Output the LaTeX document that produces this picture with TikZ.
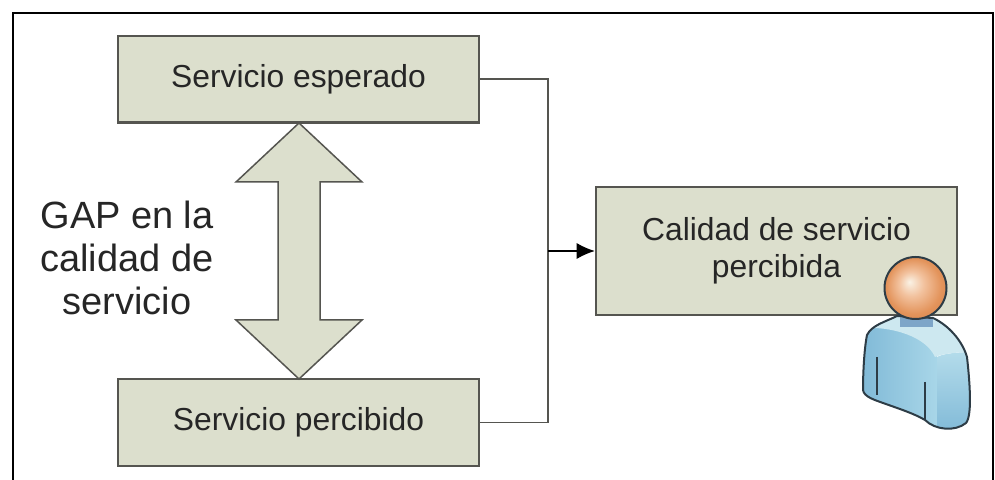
\documentclass[tikz,border=0pt]{standalone}
\usepackage{fontspec}
\setmainfont{Liberation Sans}
\usetikzlibrary{arrows.meta,positioning}
\definecolor{boxfill}{RGB}{220,223,205}
\definecolor{boxline}{RGB}{85,85,80}
\definecolor{shirtdark}{RGB}{128,185,215}
\definecolor{shirt}{RGB}{168,214,232}
\definecolor{shirtlight}{RGB}{205,232,240}
\definecolor{neckblue}{RGB}{125,165,200}
\definecolor{inkline}{RGB}{45,60,70}
\pgfdeclareradialshading{headball}{\pgfpoint{-5bp}{5bp}}{%
  rgb(0bp)=(.98,.95,.90);rgb(10bp)=(.95,.76,.62);rgb(22bp)=(.89,.58,.36);rgb(30bp)=(.84,.52,.30)}
\begin{document}
\begin{tikzpicture}[
  x=.2mm,y=-.2mm,
  every node/.style={font=\fontsize{18.1}{20.8}\selectfont,text=black!85},
  gapbox/.style={draw=boxline,line width=.5mm,fill=boxfill,inner sep=0pt,align=center},
  link/.style={draw=boxline,line width=.35mm}
]
\useasboundingbox (0,0) rectangle (995,480);
\def\personpath{(897,316) .. controls (885,322) and (872,325) .. (867,335)
  .. controls (864,350) and (863,375) .. (863,390)
  .. controls (864,397) and (875,400) .. (883,403)
  .. controls (900,409) and (915,414) .. (925,420)
  .. controls (935,430) and (955,432) .. (966,423)
  .. controls (973,415) and (969,375) .. (967,357)
  .. controls (962,340) and (948,325) .. (933,318) -- cycle}
\draw[line width=.4mm] (12.7,480) -- (12.7,13) -- (993,13) -- (993,480);
% boxes
\node[gapbox,minimum width=72.2mm,minimum height=17.3mm] (esperado) at (298.5,79.3) {Servicio esperado};
\node[gapbox,minimum width=72.2mm,minimum height=17.4mm] (percibido) at (298.5,422.5) {Servicio percibido};
\node[gapbox,minimum width=72.2mm,minimum height=25.6mm] (calidad) at (776.5,251) {Calidad de servicio\\percibida};
% double arrow
\draw[draw=boxline,line width=.3mm,fill=boxfill] (299,123) -- (362,182) -- (320,182) -- (320,320)
  -- (362,320) -- (299,379) -- (236,320) -- (278,320) -- (278,182) -- (236,182) -- cycle;
\node[font=\fontsize{21.6}{24.7}\selectfont,align=center] (gap) at (127,258) {GAP en la\\calidad de\\servicio};
% connectors
\coordinate[right=13.6mm of esperado.east] (top);
\coordinate (mid) at (top |- calidad.west);
\draw[link] (esperado.east) -- (top) -- (top |- percibido.east) -- (percibido.east);
\draw[line width=.25mm,-{Latex[length=3.6mm,width=3.2mm]}] (mid) -- (calidad.west);
% person
\begin{scope}
  \clip \personpath;
  \shade[left color=shirtdark,right color=shirt] (860,300) rectangle (937,435);
  \shade[top color=shirt!70!shirtlight,bottom color=shirtdark] (937,357) .. controls (942,354) and (955,352) .. (975,352) -- (975,435) -- (937,435) -- cycle;
  \fill[shirtlight] (873,328) .. controls (890,328) and (925,335) .. (935,357)
    .. controls (942,354) and (955,352) .. (975,352) -- (975,300) -- (873,300) -- cycle;
  \fill[neckblue] (900,310) rectangle (933,327);
\end{scope}
\draw[inkline,line width=.4mm] \personpath;
\draw[inkline,line width=.3mm] (877,357) -- (877,395);
\draw[inkline,line width=.3mm] (925,382) -- (925,420);
\draw[inkline,line width=.4mm,shading=headball] (915.5,288) circle (31);
\end{tikzpicture}
\end{document}
